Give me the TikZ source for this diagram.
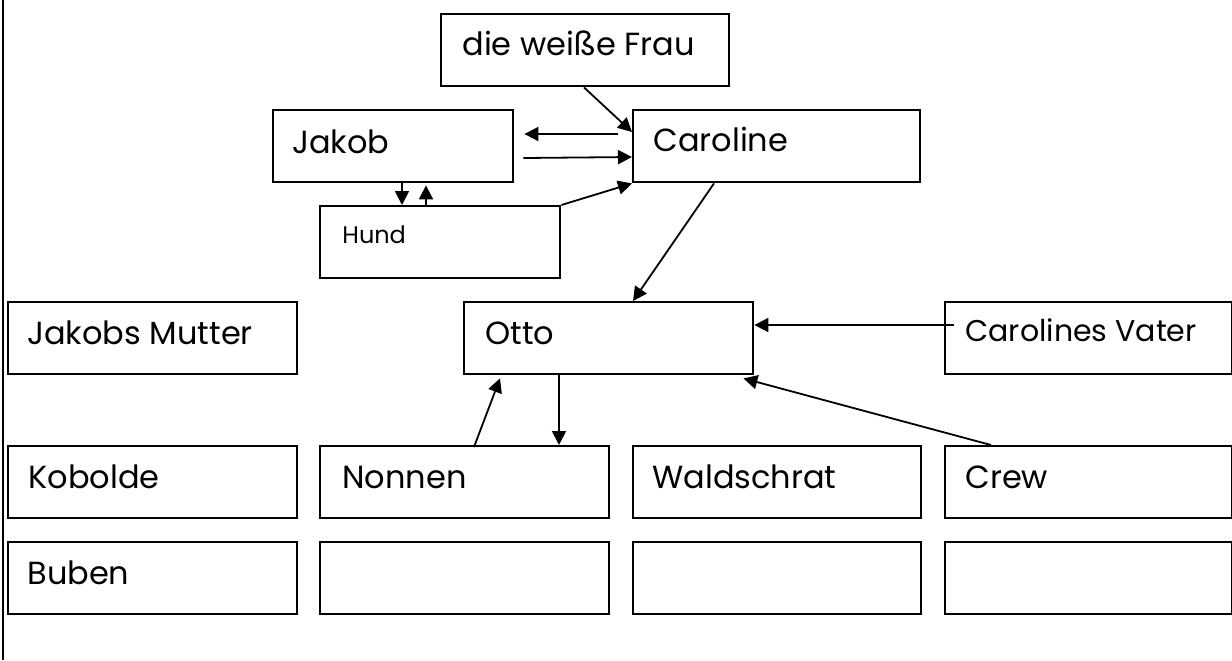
\documentclass[tikz,border=0pt]{standalone}
\usepackage{fontspec}
\setmainfont{Poppins}
\usetikzlibrary{arrows.meta,calc}
\begin{document}
\begin{tikzpicture}[x=0.5pt,y=-0.5pt,
  box/.style={draw,line width=1.2pt,rectangle,inner sep=0pt,anchor=north west,minimum height=36pt,minimum width=144.5pt},
  lbl/.style={anchor=base west,inner sep=0pt,font=\fontsize{16}{19}\selectfont},
  con/.style={line width=0.9pt,-{Triangle[length=7pt,width=7pt]}}]
\useasboundingbox (0,0) rectangle (1232,660);
\draw[line width=1pt] (3,0) -- (3,660);
% boxes
\node[box,minimum width=144pt] (frau) at (440,13) {};
\node[box,minimum width=120pt] (jakob) at (272,109) {};
\node[box,minimum width=143.5pt] (caroline) at (632,109) {};
\node[box,minimum width=120pt] (hund) at (319,205) {};
\node[box] (mutter) at (7,301) {};
\node[box] (otto) at (463,301) {};
\node[box,minimum width=143.5pt] (vater) at (944,301) {};
\node[box] (kobolde) at (7,445) {};
\node[box] (nonnen) at (319,445) {};
\node[box,minimum width=144pt] (waldschrat) at (632,445) {};
\node[box,minimum width=143.5pt] (crew) at (944,445) {};
\node[box] (buben) at (7,541) {};
\node[box] (leer1) at (319,541) {};
\node[box,minimum width=144pt] (leer2) at (632,541) {};
\node[box,minimum width=143.5pt] (leer3) at (944,541) {};
% labels
\node[lbl] (frauT) at ($(frau.north west)+(22,42)$) {die weiße Frau};
\node[lbl] (jakobT) at ($(jakob.north west)+(20,44)$) {Jakob};
\node[lbl] (carolineT) at ($(caroline.north west)+(21,42)$) {Caroline};
\node[lbl,font=\fontsize{12}{14}\selectfont] (hundT) at ($(hund.north west)+(23,38)$) {Hund};
\node[lbl] (mutterT) at ($(mutter.north west)+(20,43)$) {Jakobs Mutter};
\node[lbl] (ottoT) at ($(otto.north west)+(22,43)$) {Otto};
\node[lbl,font=\fontsize{15}{18}\selectfont] (vaterT) at ($(vater.north west)+(21,40)$) {Carolines Vater};
\node[lbl] (koboldeT) at ($(kobolde.north west)+(21,43)$) {Kobolde};
\node[lbl] (nonnenT) at ($(nonnen.north west)+(23,43)$) {Nonnen};
\node[lbl] (waldschratT) at ($(waldschrat.north west)+(20,43)$) {Waldschrat};
\node[lbl] (crewT) at ($(crew.north west)+(21,43)$) {Crew};
\node[lbl] (bubenT) at ($(buben.north west)+(20,43)$) {Buben};
% connectors
\draw[con] ($(frau.south west)+(144,0)$) -- ($(caroline.north west)+(0,23)$);
\draw[con] ($(caroline.north west)+(-14,25)$) -- ($(jakob.north east)+(10,25)$);
\draw[con] ($(jakob.north east)+(9,49)$) -- ($(caroline.north west)+(0,48)$);
\draw[con] ($(jakob.south west)+(130,0)$) -- ($(hund.north west)+(83,0)$);
\draw[con] ($(hund.north west)+(107,2)$) -- ($(jakob.south west)+(154,2)$);
\draw[con] (hund.north east) -- (caroline.south west);
\draw[con] ($(caroline.south west)+(82,0)$) -- ($(otto.north west)+(170,0)$);
\draw[con] ($(vater.north west)+(10,24)$) -- ($(otto.north east)+(0,24)$);
\draw[con] ($(crew.north west)+(47,0)$) -- ($(otto.south east)+(-11,3)$);
\draw[con] ($(otto.south west)+(96,0)$) -- ($(nonnen.north west)+(240,0)$);
\draw[con] ($(nonnen.north west)+(155,2)$) -- ($(otto.south west)+(37,3)$);
\end{tikzpicture}
\end{document}
